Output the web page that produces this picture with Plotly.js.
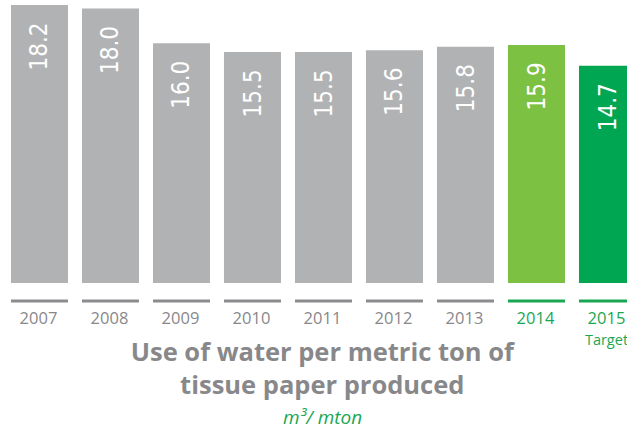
<!DOCTYPE html>
<html>
<head>
<meta charset="utf-8">
<script src="https://cdn.plot.ly/plotly-3.0.1.min.js"></script>
<style>html,body{margin:0;padding:0;overflow:hidden;background:#fff;}</style>
</head>
<body>
<div id="chart" style="width:627px;height:429px;"></div>
<script>
const categories = ["2007","2008","2009","2010","2011","2012","2013","2014","2015"];
const tickLabels = ["2007","2008","2009","2010","2011","2012","2013","2014","2015<br>Target"];
const values = [18.2, 18.0, 16.0, 15.5, 15.5, 15.6, 15.8, 15.9, 14.7];
const barColors = ["#b1b2b4","#b1b2b4","#b1b2b4","#b1b2b4","#b1b2b4","#b1b2b4","#b1b2b4","#7dc142","#00a651"];
const labelColors = ["#88888b","#88888b","#88888b","#88888b","#88888b","#88888b","#88888b","#1aa753","#1aa753"];
const lineColors = ["#8c8c8f","#8c8c8f","#8c8c8f","#8c8c8f","#8c8c8f","#8c8c8f","#8c8c8f","#1aa753","#1aa753"];

const xIdx = categories.map((c,i)=>i);
const ticktext = tickLabels.map((t,i)=>{
  if (t.indexOf("<br>")>=0) {
    const parts = t.split("<br>");
    return '<span style="color:'+labelColors[i]+'">'+parts[0]+'</span><br><span style="color:'+labelColors[i]+';font-size:14.5px">'+parts[1]+'</span>';
  }
  return '<span style="color:'+labelColors[i]+'">'+t+'</span>';
});

const trace = {
  type: 'bar',
  x: xIdx,
  y: values,
  marker: {color: barColors, line: {width: 0}},
  hoverinfo: 'skip',
  cliponaxis: true
};

const annotations = values.map((v,i)=>({
  x: i, y: v, xref: 'x', yref: 'y',
  text: v.toFixed(1),
  textangle: -90,
  showarrow: false,
  xanchor: 'center', yanchor: 'top',
  yshift: -15,
  font: {family: '"Liberation Sans Narrow", "DejaVu Sans Condensed", "Liberation Sans", sans-serif', size: 24, color: '#ffffff'}
}));
annotations.push({
  x: 0.514, y: -0.482, xref: 'paper', yref: 'paper',
  text: 'm³/ mton',
  showarrow: false, xanchor: 'center', yanchor: 'middle',
  font: {family: '"Open Sans", sans-serif', size: 19, color: '#1aa753', style: 'italic'}
});

const shapes = xIdx.map((i)=>({
  type: 'line', xref: 'x', yref: 'paper',
  x0: i - 0.4015, x1: i + 0.4015, y0: -0.0647, y1: -0.0647,
  line: {color: lineColors[i], width: 3}
}));

const layout = {
  width: 627, height: 429,
  margin: {l: 0, r: 0, t: 5, b: 146, pad: 0},
  paper_bgcolor: '#ffffff', plot_bgcolor: '#ffffff',
  showlegend: false,
  bargap: 0.197,
  xaxis: {
    range: [-0.556, 8.275],
    tickmode: 'array', tickvals: xIdx, ticktext: ticktext,
    ticks: '', showgrid: false, zeroline: false, showline: false,
    ticklabelstandoff: 23,
    ticklabelshift: -1,
    ticklabeloverflow: 'allow',
    tickfont: {family: '"Open Sans", sans-serif', size: 16.5, color: '#88888b'},
    fixedrange: true
  },
  yaxis: {
    range: [2.2, 18.2],
    visible: false, showgrid: false, zeroline: false, fixedrange: true
  },
  title: {
    text: '<b>Use of water per metric ton of<br>tissue paper produced</b>',
    x: 0.514, xanchor: 'center', xref: 'paper',
    y: 0.159, yanchor: 'middle', yref: 'container',
    font: {family: '"Open Sans", sans-serif', size: 25.5, color: '#88888b'}
  },
  annotations: annotations,
  shapes: shapes
};

Plotly.newPlot('chart', [trace], layout, {displayModeBar: false, staticPlot: true});
</script>
</body>
</html>
